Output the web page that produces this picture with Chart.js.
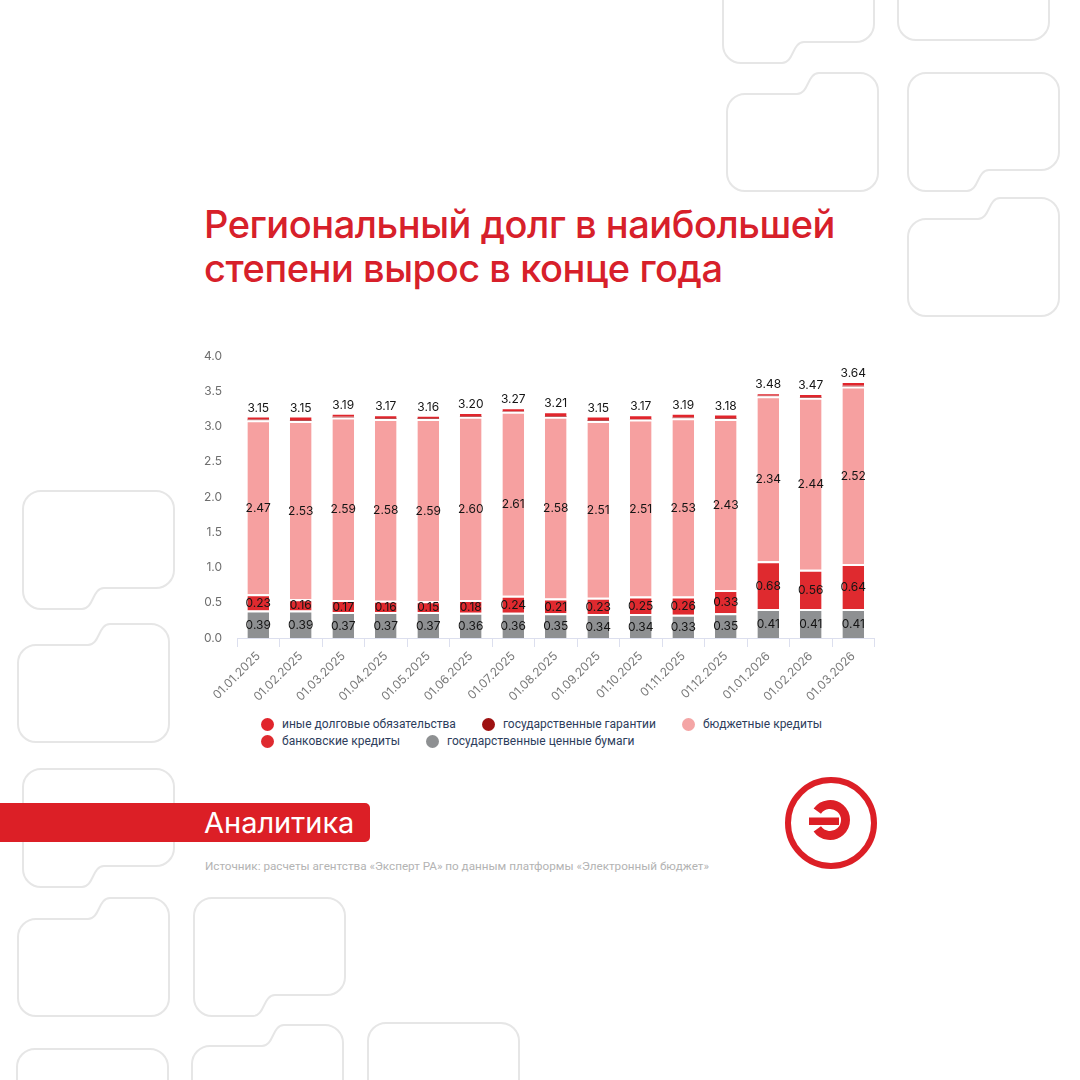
<!DOCTYPE html>
<html lang="ru">
<head>
    <meta charset="UTF-8">
    <title>Региональный долг</title>
    <style>
        html, body {
            margin: 0;
            padding: 0;
            background: #fff;
        }
        body {
            width: 1080px;
            height: 1080px;
            position: relative;
            overflow: hidden;
            font-family: Inter, "Noto Sans", sans-serif;
        }
        #decor {
            position: absolute;
            left: 0;
            top: 0;
        }
        .titulo {
            position: absolute;
            left: 204px;
            top: 202px;
            margin: 0;
            color: #d7202a;
            font-size: 38px;
            font-weight: 500;
            line-height: 44px;
            letter-spacing: -0.45px;
        }
        .grafico {
            position: absolute;
            left: 195px;
            top: 334px;
        }
        .legenda {
            position: absolute;
            left: 261px;
            top: 716px;
            width: 600px;
            display: flex;
            flex-wrap: wrap;
            column-gap: 26px;
            font-family: Roboto, sans-serif;
            font-size: 12px;
            line-height: 17px;
            color: #2d3d5c;
        }
        .legenda .item {
            display: flex;
            align-items: center;
        }
        .legenda i {
            width: 13px;
            height: 13px;
            border-radius: 50%;
            margin-right: 8px;
        }
        .faixa {
            position: absolute;
            left: 0;
            top: 803px;
            width: 370px;
            height: 39px;
            line-height: 39px;
            background: #dc1f26;
            border-radius: 0 5px 5px 0;
            color: #fff;
            font-size: 29px;
            font-weight: 400;
            box-sizing: border-box;
            padding-left: 204px;
        }
        .fonte {
            position: absolute;
            left: 205px;
            top: 859px;
            font-family: Roboto, sans-serif;
            font-size: 11.7px;
            color: #b3b3b3;
            white-space: nowrap;
        }
    </style>
    <script src="https://cdn.jsdelivr.net/npm/chart.js"></script>
</head>
<body>
    <svg id="decor" width="1080" height="1080"></svg>

    <h1 class="titulo">Региональный долг в наибольшей<br>степени вырос в конце года</h1>

    <canvas id="graficoDivida" class="grafico" width="685" height="366"></canvas>
    <div id="legenda" class="legenda"></div>

    <div class="faixa">Аналитика</div>
    <div class="fonte">Источник: расчеты агентства «Эксперт РА» по данным платформы «Электронный бюджет»</div>

    <script>
        // dados (трлн руб.)
        const datas = ['01.01.2025', '01.02.2025', '01.03.2025', '01.04.2025', '01.05.2025', '01.06.2025',
            '01.07.2025', '01.08.2025', '01.09.2025', '01.10.2025', '01.11.2025', '01.12.2025',
            '01.01.2026', '01.02.2026', '01.03.2026'];
        const cennyeBumagi = [0.39, 0.39, 0.37, 0.37, 0.37, 0.36, 0.36, 0.35, 0.34, 0.34, 0.33, 0.35, 0.41, 0.41, 0.41];
        const bankovskie = [0.23, 0.16, 0.17, 0.16, 0.15, 0.18, 0.24, 0.21, 0.23, 0.25, 0.26, 0.33, 0.68, 0.56, 0.64];
        const byudzhetnye = [2.47, 2.53, 2.59, 2.58, 2.59, 2.60, 2.61, 2.58, 2.51, 2.51, 2.53, 2.43, 2.34, 2.44, 2.52];
        const garantii = [0.01, 0.01, 0.01, 0.01, 0.01, 0.01, 0.01, 0.01, 0.01, 0.01, 0.01, 0.01, 0.01, 0.01, 0.01];
        const inye = [0.05, 0.06, 0.05, 0.05, 0.04, 0.05, 0.05, 0.06, 0.06, 0.06, 0.06, 0.06, 0.04, 0.05, 0.06];
        const eixoY = { min: 0, max: 4, passo: 0.5 };

        // formas decorativas do fundo
        const formas = [
            [723, -55, 'BL'], [898, -78, ''], [727, 73, 'TR'], [908, 73, 'BL'], [908, 198, 'TR'],
            [23, 491, 'BL'], [18, 624, 'TR'], [23, 769, 'BL'], [18, 898, 'TR'], [194, 898, 'BL'],
            [17, 1049, ''], [192, 1025, 'TR'], [368, 1023, '']
        ];

        function caminho(x, y, tipo) {
            const w = 151, h = 118, r = 18, s = 21;
            const x1 = x + w, y1 = y + h;
            if (tipo === 'TR') {
                return `M${x},${y1 - r} L${x},${y + s + r} A${r} ${r} 0 0 1 ${x + r},${y + s} L${x + 70},${y + s} ` +
                    `C${x + 82},${y + s} ${x + 80},${y} ${x + 92},${y} L${x1 - r},${y} A${r} ${r} 0 0 1 ${x1},${y + r} ` +
                    `L${x1},${y1 - r} A${r} ${r} 0 0 1 ${x1 - r},${y1} L${x + r},${y1} A${r} ${r} 0 0 1 ${x},${y1 - r} Z`;
            }
            if (tipo === 'BL') {
                return `M${x + r},${y} L${x1 - r},${y} A${r} ${r} 0 0 1 ${x1},${y + r} L${x1},${y1 - s - r} ` +
                    `A${r} ${r} 0 0 1 ${x1 - r},${y1 - s} L${x1 - 70},${y1 - s} C${x1 - 82},${y1 - s} ${x1 - 80},${y1} ${x1 - 92},${y1} ` +
                    `L${x + r},${y1} A${r} ${r} 0 0 1 ${x},${y1 - r} L${x},${y + r} A${r} ${r} 0 0 1 ${x + r},${y} Z`;
            }
            return `M${x + r},${y} L${x1 - r},${y} A${r} ${r} 0 0 1 ${x1},${y + r} L${x1},${y1 - r} A${r} ${r} 0 0 1 ${x1 - r},${y1} ` +
                `L${x + r},${y1} A${r} ${r} 0 0 1 ${x},${y1 - r} L${x},${y + r} A${r} ${r} 0 0 1 ${x + r},${y} Z`;
        }

        let svg = formas.map(f => `<path d="${caminho(f[0], f[1], f[2])}" fill="none" stroke="#e6e6e6" stroke-width="2"/>`).join('');
        // logotipo: círculo e letra Э
        svg += '<circle cx="831" cy="823" r="43" fill="none" stroke="#dc1f26" stroke-width="6"/>';
        svg += '<path d="M817.3,811.1 A15.5 15.5 0 1 1 817.3,828.9" fill="none" stroke="#dc1f26" stroke-width="9"/>';
        svg += '<rect x="809" y="817.5" width="30" height="7.5" fill="#dc1f26"/>';
        document.getElementById('decor').innerHTML = svg;

        // rótulos de valores dentro das barras e total acima
        const rotulos = {
            id: 'rotulos',
            afterDatasetsDraw(chart) {
                const ctx = chart.ctx;
                ctx.save();
                ctx.font = '400 12px Inter';
                ctx.fillStyle = '#151515';
                ctx.textAlign = 'center';
                ctx.textBaseline = 'middle';
                [0, 1, 2].forEach(d => {
                    chart.getDatasetMeta(d).data.forEach((barra, i) => {
                        const v = chart.data.datasets[d].data[i];
                        ctx.fillText(v.toFixed(2), barra.x, (barra.y + barra.base) / 2 + 1);
                    });
                });
                const ultimo = chart.data.datasets.length - 1;
                ctx.textBaseline = 'bottom';
                chart.getDatasetMeta(ultimo).data.forEach((barra, i) => {
                    const total = chart.data.datasets.reduce((s, ds) => s + ds.data[i], 0);
                    ctx.fillText(total.toFixed(2), barra.x, barra.y - 2);
                });
                ctx.restore();
            }
        };

        const bordaTopo = { top: 2, right: 0, bottom: 0, left: 0 };

        const grafico = new Chart(document.getElementById('graficoDivida'), {
            type: 'bar',
            data: {
                labels: datas,
                datasets: [
                    { label: 'государственные ценные бумаги', data: cennyeBumagi, backgroundColor: '#8e9092', borderColor: '#fff', borderWidth: bordaTopo, borderSkipped: false },
                    { label: 'банковские кредиты', data: bankovskie, backgroundColor: '#df2a2f', borderColor: '#fff', borderWidth: bordaTopo, borderSkipped: false },
                    { label: 'бюджетные кредиты', data: byudzhetnye, backgroundColor: '#f6a0a0', borderColor: '#fff', borderWidth: bordaTopo, borderSkipped: false },
                    { label: 'государственные гарантии', data: garantii, backgroundColor: '#a3161a', borderWidth: 0 },
                    { label: 'иные долговые обязательства', data: inye, backgroundColor: '#e1252c', borderColor: '#fff', borderWidth: { top: 1.5, right: 0, bottom: 0, left: 0 }, borderSkipped: false }
                ]
            },
            options: {
                responsive: false,
                animation: false,
                devicePixelRatio: 1,
                layout: { padding: { left: 0, right: 5.5, top: 9, bottom: 0 } },
                datasets: { bar: { categoryPercentage: 1, barPercentage: 0.51 } },
                plugins: {
                    legend: { display: false },
                    tooltip: { enabled: false }
                },
                scales: {
                    x: {
                        stacked: true,
                        offset: true,
                        grid: { display: true, drawOnChartArea: false, drawTicks: true, tickLength: 9, color: '#dcdfee', offset: true },
                        border: { display: true, color: '#dcdfee' },
                        ticks: { minRotation: 45, maxRotation: 45, color: '#7a7a7a', font: { family: 'Inter', size: 12 }, padding: 2 },
                        afterFit(s) { s.height = 62; }
                    },
                    y: {
                        stacked: true,
                        min: eixoY.min,
                        max: eixoY.max,
                        ticks: { stepSize: eixoY.passo, callback: v => v.toFixed(1), color: '#6e6e6e', font: { family: 'Inter', size: 12 }, padding: 15 },
                        grid: { display: false, drawTicks: false },
                        border: { display: false },
                        afterFit(s) { s.width = 42; }
                    }
                }
            },
            plugins: [rotulos]
        });

        // legenda em HTML, na ordem inversa das séries
        const legenda = document.getElementById('legenda');
        const coresLegenda = { 'государственные гарантии': '#9e1111', 'бюджетные кредиты': '#f4a5a5' };
        legenda.innerHTML = grafico.data.datasets.slice().reverse().map(ds =>
            `<span class="item"><i style="background:${coresLegenda[ds.label] || ds.backgroundColor}"></i>${ds.label}</span>`
        ).join('');
    </script>
</body>
</html>
